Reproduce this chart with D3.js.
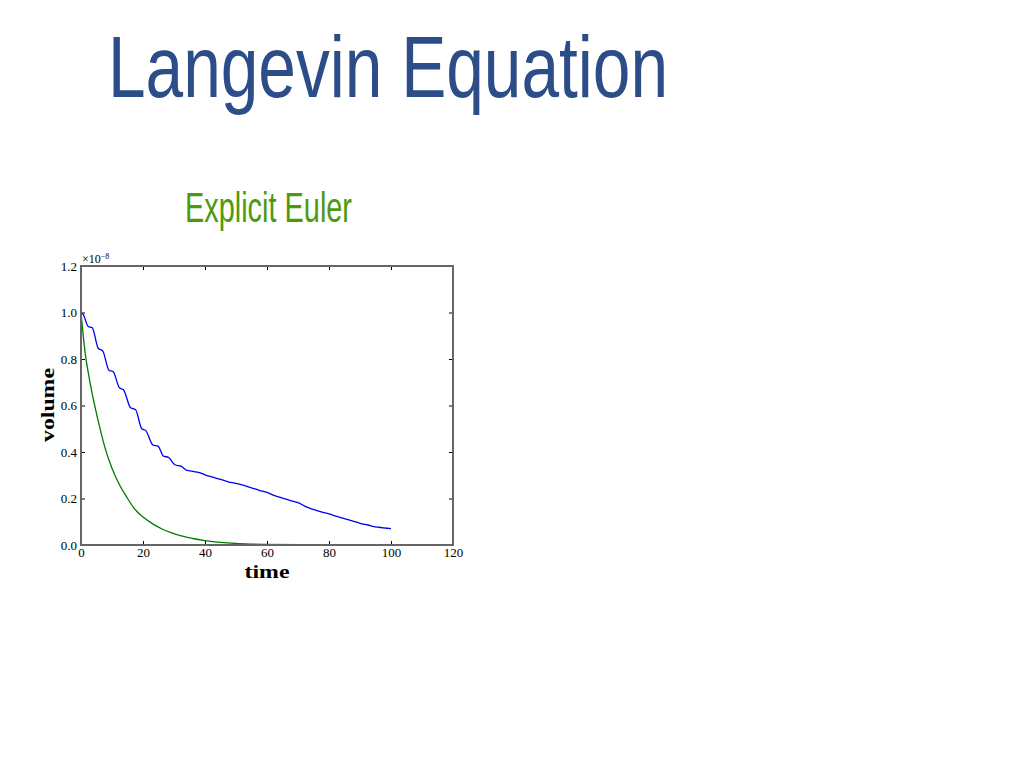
<!DOCTYPE html>
<meta charset="utf-8">
<style>
body { margin: 0; background: #fff; }
svg { display: block; }
.tick text { font-family: "Liberation Serif", serif; font-size: 13px; fill: #000; }
</style>
<body>
<script src="https://cdn.jsdelivr.net/npm/d3@7"></script>
<script>
// values, volume in units of 1e-8
var blueTime = [0, 0.8, 2.3, 3.6, 5.6, 7.0, 9.0, 10.4, 12.4, 13.7, 16.0, 17.6, 19.6, 20.9, 23.2, 24.9, 26.6, 28.2, 30.3, 32.4, 34, 36.5, 38.5,
  40, 42.5, 45, 47.5, 50, 52.5, 55, 57.5, 60, 62.5, 65, 67.5, 70, 72.5, 75, 77.5, 80, 82.5, 85, 87.5, 90, 92.5, 95, 97.5, 100]
var blueVolume = [1.0, 0.99, 0.94, 0.935, 0.845, 0.835, 0.752, 0.745, 0.676, 0.668, 0.59, 0.582, 0.5, 0.492, 0.43, 0.424, 0.382, 0.377, 0.345, 0.338, 0.322, 0.316, 0.31,
  0.302, 0.292, 0.282, 0.272, 0.265, 0.256, 0.246, 0.235, 0.226, 0.212, 0.202, 0.191, 0.182, 0.165, 0.153, 0.142, 0.134, 0.123, 0.113, 0.104, 0.093, 0.086, 0.078, 0.074, 0.07]

var greenTime = [0, 1.4, 2.5, 4.1, 5.8, 7.7, 10, 12, 14.8, 17, 20, 23, 26, 29, 32, 36, 40, 45, 50, 55, 60, 70, 80, 90, 100]
var greenVolume = [1.0, 0.82, 0.73, 0.62, 0.52, 0.42, 0.33, 0.27, 0.205, 0.16, 0.12, 0.092, 0.07, 0.053, 0.04, 0.028, 0.019, 0.011, 0.0065, 0.004, 0.0024, 0.001, 0.0004, 0.0002, 0.0001]

var xTicks = [0, 20, 40, 60, 80, 100, 120]
var yTicks = [0.0, 0.2, 0.4, 0.6, 0.8, 1.0, 1.2]

var svg = d3.select("body").append("svg")
  .attr("width", 1024)
  .attr("height", 768)

svg.append("text")
  .attr("x", 108).attr("y", 97)
  .attr("textLength", 560).attr("lengthAdjust", "spacingAndGlyphs")
  .style("font-family", "Liberation Sans, sans-serif")
  .style("font-size", "88px")
  .style("fill", "#2c4d87")
  .text("Langevin Equation")

svg.append("text")
  .attr("x", 185).attr("y", 222)
  .attr("textLength", 167).attr("lengthAdjust", "spacingAndGlyphs")
  .style("font-family", "Liberation Sans, sans-serif")
  .style("font-size", "42px")
  .style("fill", "#4e9a0c")
  .text("Explicit Euler")

var plotL = 81, plotR = 453, plotT = 266, plotB = 545

var x = d3.scaleLinear().domain([0, 120]).range([plotL, plotR])
var y = d3.scaleLinear().domain([0, 1.2]).range([plotB, plotT])

var g = svg.append("g")

// axes with inward ticks on all four sides
g.append("g").attr("transform", "translate(0," + plotB + ")")
  .call(d3.axisBottom(x).tickValues(xTicks).tickSizeInner(-4).tickSizeOuter(0).tickPadding(3))
g.append("g").attr("transform", "translate(0," + plotT + ")")
  .call(d3.axisTop(x).tickValues(xTicks).tickSizeInner(-4).tickSizeOuter(0).tickFormat(""))
g.append("g").attr("transform", "translate(" + plotL + ",0)")
  .call(d3.axisLeft(y).tickValues(yTicks).tickSizeInner(-4).tickSizeOuter(0).tickPadding(4).tickFormat(d3.format(".1f")))
g.append("g").attr("transform", "translate(" + plotR + ",0)")
  .call(d3.axisRight(y).tickValues(yTicks).tickSizeInner(-4).tickSizeOuter(0).tickFormat(""))

g.selectAll(".domain").remove()
g.selectAll(".tick line").attr("stroke", "#000").attr("stroke-width", 1)

var line = d3.line()
  .x(function(d) { return x(d[0]) })
  .y(function(d) { return y(d[1]) })
  .curve(d3.curveMonotoneX)

svg.append("path")
  .datum(d3.zip(greenTime, greenVolume))
  .attr("d", line)
  .attr("fill", "none")
  .attr("stroke", "#007a00")
  .attr("stroke-width", 1.3)

svg.append("path")
  .datum(d3.zip(blueTime, blueVolume))
  .attr("d", line)
  .attr("fill", "none")
  .attr("stroke", "#0000ee")
  .attr("stroke-width", 1.3)

svg.append("rect")
  .attr("x", plotL).attr("y", plotT)
  .attr("width", plotR - plotL).attr("height", plotB - plotT)
  .attr("fill", "none")
  .attr("stroke", "#666")
  .attr("stroke-width", 2)

// offset text
var off = svg.append("text")
  .attr("x", 82).attr("y", 263)
  .style("font-family", "Liberation Serif, serif")
  .style("font-size", "12px")
off.append("tspan").text("\u00d710")
off.append("tspan").attr("dy", -4).style("font-size", "8px").text("\u22128")

svg.append("text")
  .attr("x", 267).attr("y", 578)
  .attr("text-anchor", "middle")
  .attr("textLength", 45).attr("lengthAdjust", "spacingAndGlyphs")
  .style("font-family", "Liberation Serif, serif")
  .style("font-weight", "bold")
  .style("font-size", "19px")
  .text("time")

svg.append("text")
  .attr("transform", "translate(54,405) rotate(-90)")
  .attr("text-anchor", "middle")
  .attr("textLength", 74).attr("lengthAdjust", "spacingAndGlyphs")
  .style("font-family", "Liberation Serif, serif")
  .style("font-weight", "bold")
  .style("font-size", "19px")
  .text("volume")
</script>
</body>
